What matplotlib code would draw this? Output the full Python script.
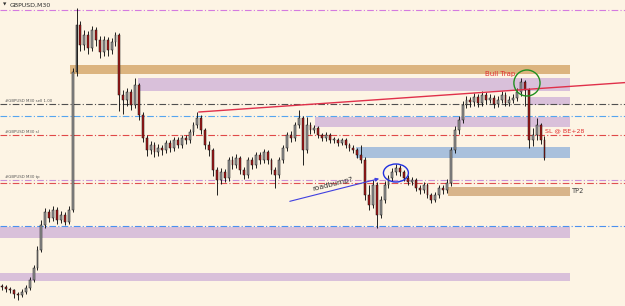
import matplotlib
matplotlib.use("Agg")
import matplotlib.pyplot as plt
from matplotlib.patches import Ellipse, Rectangle

# ---- data (price in pips above an arbitrary base) ----
first_open = 20
closes = [19, 17, 16, 12,
          11, 14, 18, 26, 38, 56, 81, 94, 88, 96, 86, 91, 84, 96, 234, 281, 261, 271, 258, 276,
          266, 254, 266, 256, 264, 271, 211, 206, 214, 201, 221, 191, 168, 156, 161, 154, 158, 156,
          163, 158, 166, 161, 168, 166, 174, 181, 188, 176, 161, 156, 136, 126, 134, 128, 146, 141,
          148, 136, 131, 146, 141, 151, 146, 154, 146, 136, 131, 146, 158, 171, 168, 181, 188, 156,
          181, 176, 178, 171, 168, 171, 166, 166, 163, 166, 161, 158, 156, 151, 146, 111, 101, 121,
          91, 106, 121, 128, 134, 138, 134, 128, 124, 126, 118, 116, 121, 111, 106, 111, 118, 116,
          123, 156, 176, 186, 201, 206, 204, 209, 203, 211, 206, 208, 202, 206, 211, 203, 206, 208,
          214, 224, 216, 166, 171, 181, 166, 148]
highs = [22, 21, 19, 17,
         14, 17, 21, 29, 41, 60, 86, 98, 97, 100, 99, 95, 94, 100, 238, 298, 285, 276, 275, 280,
         279, 270, 270, 269, 268, 274, 273, 216, 218, 217, 228, 223, 194, 171, 165, 164, 162, 161,
         166, 166, 169, 169, 171, 171, 177, 184, 194, 191, 178, 165, 158, 139, 138, 137, 149, 150,
         152, 150, 139, 149, 149, 154, 154, 157, 156, 148, 139, 149, 161, 174, 175, 184, 196, 190,
         189, 184, 181, 180, 173, 174, 173, 169, 168, 168, 168, 163, 161, 158, 161, 149, 121, 126,
         124, 110, 125, 131, 138, 142, 141, 136, 131, 129, 128, 121, 124, 123, 113, 114, 121, 121,
         127, 159, 180, 190, 205, 210, 209, 213, 212, 215, 214, 212, 211, 210, 215, 214, 210, 212,
         218, 228, 226, 218, 178, 188, 183, 170]
lows = [16, 14, 13, 8,
        6, 9, 12, 16, 24, 36, 54, 78, 84, 85, 82, 83, 81, 82, 94, 230, 255, 256, 252, 255,
        260, 248, 250, 250, 252, 260, 195, 192, 200, 196, 198, 186, 164, 150, 152, 149, 150, 151,
        153, 154, 155, 158, 158, 162, 163, 171, 178, 172, 157, 150, 130, 111, 122, 124, 125, 137,
        138, 132, 127, 128, 137, 138, 142, 143, 142, 132, 118, 128, 143, 155, 164, 165, 178, 141,
        153, 172, 173, 168, 165, 165, 163, 163, 160, 161, 158, 155, 153, 148, 143, 106, 96, 98,
        78, 88, 103, 118, 125, 131, 130, 125, 121, 121, 115, 112, 113, 108, 103, 104, 108, 112,
        113, 120, 153, 172, 183, 198, 199, 200, 199, 200, 202, 203, 198, 199, 203, 200, 200, 203,
        205, 210, 200, 158, 160, 166, 162, 146]
opens = [first_open] + closes[:-1]

# zones: (bottom, top, start candle index, colour)
zone_low = [232, 215, 201, 179, 148, 110, 68, 25]
zone_high = [241, 228, 209, 189, 159, 119, 79, 33]
zone_start = [17.3, 34.8, 134.8, 80.2, 90.7, 114.3, -2, -2]
zone_end = 145.5
zone_colors = ["#dcb47f", "#d9c0da", "#d9c0da", "#d9c0da", "#a9c0dc", "#d8b48a", "#d9c0da", "#d9c0da"]

# horizontal levels
level_values = [296, 202, 190, 171, 126, 123, 80]
level_colors = ["#d47ae0", "#505050", "#55a5f0", "#e04848", "#c890d8", "#e05050", "#4a90f0"]
level_labels = ["", "#GBPUSD M30 sell 1.00", "", "#GBPUSD M30 sl", "#GBPUSD M30 tp", "", ""]

# trendline and arrow endpoints (candle index, price)
trend_x = [50.4, 160]
trend_y = [194, 223.5]
arrow_x = [73, 97.3]
arrow_y = [104, 128]

# ---- figure ----
X0, DX = 2.4, 3.9
fig = plt.figure(figsize=(6.25, 3.06), dpi=100)
ax = fig.add_axes([0, 0, 1, 1])
bg = "#fdf4e4"
fig.patch.set_facecolor(bg)
ax.set_facecolor(bg)
ax.set_xlim(-X0 / DX, (625 - X0) / DX)
ax.set_ylim(0, 306)
ax.axis("off")

for lo, hi, st, c in zip(zone_low, zone_high, zone_start, zone_colors):
    ax.add_patch(Rectangle((st, lo), zone_end - st, hi - lo, facecolor=c, edgecolor="none", zorder=1))

for v, c, lab in zip(level_values, level_colors, level_labels):
    ax.axhline(v, color=c, lw=0.8, ls=(0, (6, 2, 1, 2)), zorder=2)
    if lab:
        ax.text(0.6, v + 0.8, lab, fontsize=2.8, color="#555555", va="bottom", ha="left", zorder=3)

# candles
n = len(closes)
for i in range(n):
    o, c, h, l = opens[i], closes[i], highs[i], lows[i]
    ax.vlines(i, l, h, color="#111111", lw=0.65, zorder=4)
    up = c >= o
    ax.bar(i, max(abs(c - o), 0.8), bottom=min(o, c), width=0.5,
           color="#9a9a9a" if up else "#a81818", edgecolor="#111111", lw=0.35, zorder=5)

# annotations
ax.plot(trend_x, trend_y, color="#e0304a", lw=1.0, zorder=6)
ax.annotate("", xy=(arrow_x[1], arrow_y[1]), xytext=(arrow_x[0], arrow_y[0]),
            arrowprops=dict(arrowstyle="-|>", color="#4040e0", lw=0.8, mutation_scale=5), zorder=6)
ax.text(84.8, 122, "roadbump?", fontsize=5.3, color="#303030", rotation=14,
        ha="center", va="center", zorder=7)
ax.add_patch(Ellipse((100.9, 133), 6.4, 18, fill=False, edgecolor="#2030e0", lw=1.0, zorder=7))
ax.add_patch(Ellipse((134.5, 223), 6.7, 26, fill=False, edgecolor="#209020", lw=1.0, zorder=7))
ax.text(127.6, 232, "Bull Trap", fontsize=5, color="#e03030", ha="center", va="center", zorder=7)
ax.text(139.2, 175, "SL @ BE+28", fontsize=4.6, color="#e03030", ha="left", va="center", zorder=7)
ax.text(146, 115, "TP2", fontsize=4.8, color="#404040", ha="left", va="center", zorder=7)
ax.text(0.1, 301, "\u25BC", fontsize=3.2, color="#303030", ha="left", va="center")
ax.text(1.9, 301, "GBPUSD,M30", fontsize=4.5, color="#303030", ha="left", va="center")

fig.savefig("out.png", dpi=100, facecolor=bg)
